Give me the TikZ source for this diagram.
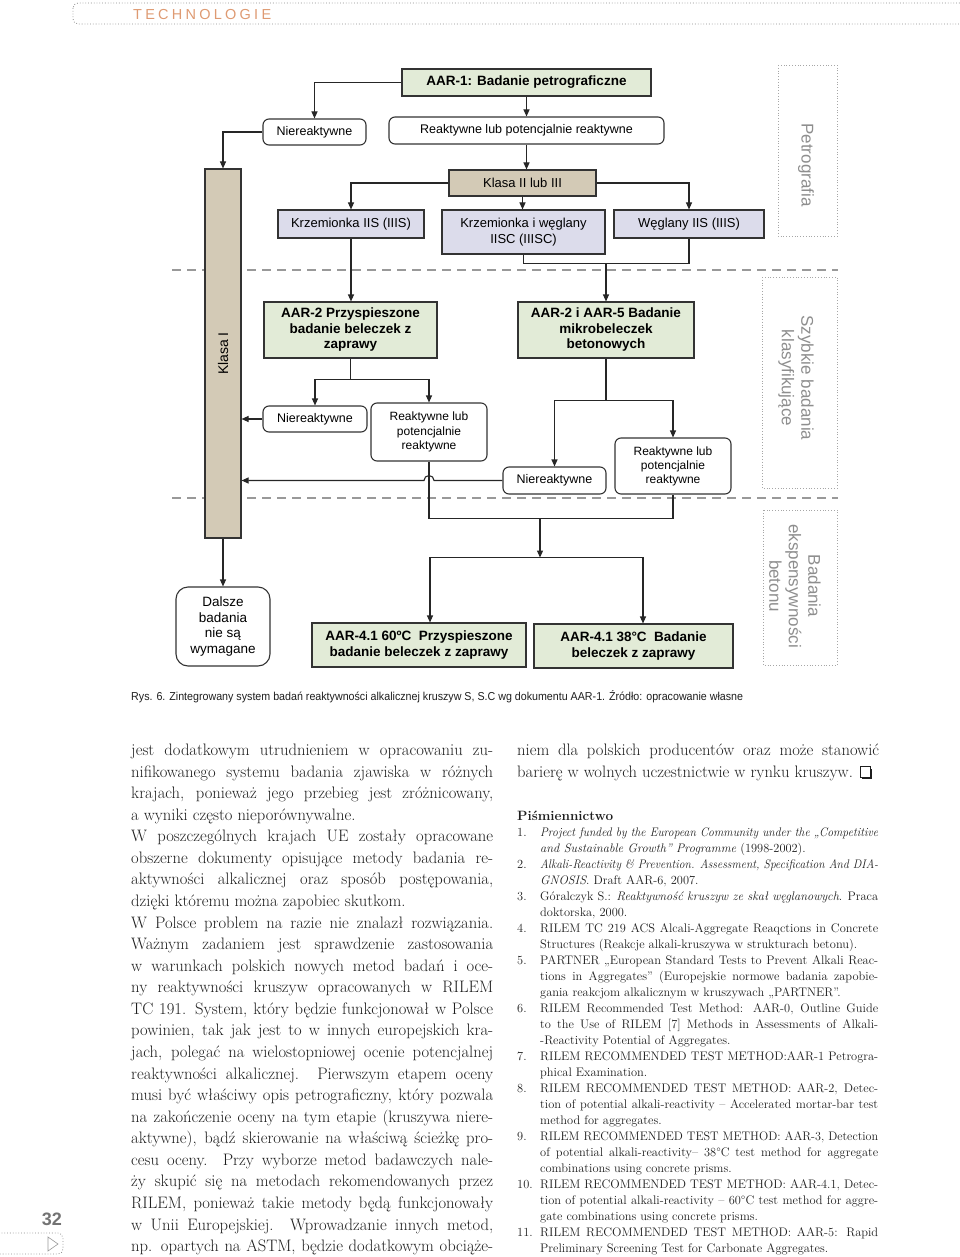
\documentclass[tikz,border=0pt]{standalone}
\usepackage{fontspec}
\usepackage{graphicx}
\usetikzlibrary{arrows.meta,calc}
\newfontfamily\dfont{Liberation Sans}
\definecolor{grn}{HTML}{E2EBD7}
\definecolor{tanc}{HTML}{D3CAB6}
\definecolor{lav}{HTML}{DCDCEB}
\definecolor{sidegray}{HTML}{8E8E8E}
\definecolor{hdr}{HTML}{DE9A72}
\definecolor{txt}{HTML}{1E1E1E}
\newlength\colw \setlength\colw{362pt}
\newlength\refw \setlength\refw{338pt}
\newsavebox\linebox
\newcommand\fitline[2]{\sbox\linebox{#2}\ifdim\wd\linebox>#1\resizebox{#1}{\height}{\usebox\linebox}\else\makebox[#1][s]{#2}\fi}
\newcommand\jl[1]{\fitline{\colw}{#1}}
\newcommand\rj[1]{\fitline{\refw}{#1}}
\newcommand\bodyfont{\fontsize{16.6pt}{18pt}\selectfont}
\newcommand\reffont{\fontsize{12.4pt}{14pt}\selectfont}
\hfuzz=50pt
\tikzset{
 box/.style={draw=black!80, line width=1.1pt, align=center, inner sep=1pt,
   font=\dfont\fontsize{12.5pt}{14.5pt}\selectfont},
 gbox/.style={box, fill=grn, font=\dfont\bfseries\fontsize{13.5pt}{15.5pt}\selectfont},
 lbox/.style={box, fill=lav, font=\dfont\fontsize{13pt}{16pt}\selectfont},
 tbox/.style={box, fill=tanc},
 rbox/.style={box, fill=white, rounded corners=6pt},
 sidebox/.style={draw=black!35, dotted, line width=0.8pt},
 sidetxt/.style={text=sidegray, font=\dfont\fontsize{17pt}{19.5pt}\selectfont, align=center, rotate=-90, inner sep=0pt},
 arr/.style={line width=1.1pt, draw=black!85, -{Triangle[length=7pt,width=6pt]}},
 ln/.style={line width=1.1pt, draw=black!85},
 sepline/.style={draw=black!40, line width=2.6pt, dash pattern=on 9pt off 6pt},
 bl/.style={anchor=base west, inner sep=0pt, text=txt, font=\bodyfont},
 rl/.style={anchor=base west, inner sep=0pt, text=txt, font=\reffont},
}
\begin{document}
\begin{tikzpicture}[x=1pt,y=-1pt]
\useasboundingbox (0,0) rectangle (960,1257);
% header
\draw[black!45, dotted, line width=0.8pt, rounded corners=5pt] (73,3) rectangle (990,24);
\node[anchor=base west, inner sep=0pt, text=hdr, font=\dfont\fontsize{14.5pt}{16pt}\selectfont] (hdrt) at (133,19.5)
  {\hbox to 138pt{T\hfil E\hfil C\hfil H\hfil N\hfil O\hfil L\hfil O\hfil G\hfil I\hfil E}};

% separators
\draw[sepline] (172,270) -- (838,270);
\draw[sepline] (172,498) -- (838,498);

% side boxes
\draw[sidebox] (778,65) rectangle (837,236);
\node[sidetxt] (petro) at (806,165) {Petrografia};
\draw[sidebox] (762,277) rectangle (837,488);
\node[sidetxt] (szyb) at (796,378) {Szybkie badania\\klasyfikujące};
\draw[sidebox] (763,510) rectangle (837,665);
\node[sidetxt] (bad) at (795,586) {Badania\\ekspensywności\\betonu};

% nodes
\node[gbox, minimum width=249pt, minimum height=27pt] (aar1) at (526.5,82.5) {AAR-1: Badanie petrograficzne};
\node[rbox, minimum width=103pt, minimum height=26pt] (nr1) at (314.5,132) {Niereaktywne};
\node[rbox, minimum width=275pt, minimum height=27pt] (rr1) at (526.5,130.5) {Reaktywne lub potencjalnie reaktywne};
\node[tbox, font=\dfont\fontsize{13pt}{15pt}\selectfont, minimum width=147pt, minimum height=26pt] (kl23) at (522.5,183) {Klasa II lub III};
\node[lbox, minimum width=146pt, minimum height=28pt] (kr1) at (351,224) {Krzemionka IIS (IIIS)};
\node[lbox, minimum width=163pt, minimum height=44pt] (krw) at (523.5,232) {Krzemionka i węglany\\IISC (IIISC)};
\node[lbox, minimum width=150pt, minimum height=28pt] (wg) at (689,224) {Węglany IIS (IIIS)};
\node[tbox, minimum width=36pt, minimum height=369pt] (bar) at (223,353.5) {};
\node[rotate=90, inner sep=0pt, font=\dfont\fontsize{14pt}{16pt}\selectfont] (barlbl) at (bar.center) {Klasa I};
\node[gbox, minimum width=173pt, minimum height=56pt] (aar2p) at (350.5,330) {AAR-2 Przyspieszone\\badanie beleczek z\\zaprawy};
\node[gbox, minimum width=176pt, minimum height=56pt] (aar25) at (606,330) {AAR-2 i AAR-5 Badanie\\mikrobeleczek\\betonowych};
\node[rbox, minimum width=104pt, minimum height=26pt] (nr2) at (315,419) {Niereaktywne};
\node[rbox, font=\dfont\fontsize{12pt}{14.5pt}\selectfont, minimum width=116pt, minimum height=58pt] (rr2) at (429,432) {Reaktywne lub\\potencjalnie\\reaktywne};
\node[rbox, minimum width=103pt, minimum height=27pt] (nr3) at (554.5,480.5) {Niereaktywne};
\node[rbox, font=\dfont\fontsize{12pt}{14pt}\selectfont, minimum width=116pt, minimum height=56pt] (rr3) at (673,466) {Reaktywne lub\\potencjalnie\\reaktywne};
\node[gbox, minimum width=214pt, minimum height=44pt] (aar41a) at (419,645) {AAR-4.1 60ºC\ \ Przyspieszone\\badanie beleczek z zaprawy};
\node[gbox, minimum width=199pt, minimum height=44pt] (aar41b) at (633.5,646) {AAR-4.1 38°C\ \ Badanie\\beleczek z zaprawy};
\node[rbox, rounded corners=12pt, font=\dfont\fontsize{13.5pt}{15.7pt}\selectfont, minimum width=94pt, minimum height=79pt] (dalsze) at (223,626.5) {Dalsze\\badania\\nie są\\wymagane};

% junction coordinates
\path (krw.south) ++(82.5,9) coordinate (jA);
\path (aar2p.south) ++(0,21) coordinate (jB);
\path (aar25.south) ++(0,42) coordinate (jC);
\path (rr2.south) ++(111,57) coordinate (jD);
\path (jD) ++(0,39) coordinate (jE);
\path (aar41a.north) ++(11,0) coordinate (tA);
\path (aar41b.north) ++(9.5,0) coordinate (tB);
\coordinate (hopR) at ($(rr2.south |- nr3.west)+(5,0)$);

% connectors
\draw[arr] (aar1.west) -| (nr1.north);
\draw[arr] (aar1.south) -- (aar1.south |- rr1.north);
\draw[arr] (rr1.south) -- (rr1.south |- kl23.north);
\draw[arr] (nr1.west) -| (bar.north);
\draw[arr] (kl23.west) -| (kr1.north);
\draw[arr] (kl23.east) -| (wg.north);
\draw[arr] (kl23.south) -- (kl23.south |- krw.north);
\draw[arr] (kr1.south) -- (kr1.south |- aar2p.north);
\draw[ln] (krw.south) |- (jA) -| (wg.south);
\draw[arr] (jA) -- (jA |- aar25.north);
\draw[ln] (aar2p.south) -- (jB);
\draw[arr] (jB) -| (nr2.north);
\draw[arr] (jB) -| (rr2.north);
\draw[arr] (nr2.west) -- (nr2.west -| bar.east);
\draw[ln] (aar25.south) -- (jC);
\draw[arr] (jC) -| (nr3.north);
\draw[arr] (jC) -| (rr3.north);
\draw[arr] (nr3.west) -- (hopR) arc[start angle=0, end angle=180, radius=5pt] -- (nr3.west -| bar.east);
\draw[ln] (rr2.south) |- (jD) -| (rr3.south);
\draw[arr] (jD) -- (jE);
\draw[arr] (jE) -| (tA);
\draw[arr] (jE) -| (tB);
\draw[arr] (bar.south) -- (dalsze.north);

% caption
\node[anchor=base west, inner sep=0pt, text=txt] (cap) at (131,700)
 {\resizebox{612pt}{\height}{\dfont\fontsize{11.5pt}{13pt}\selectfont Rys. 6. Zintegrowany system badań reaktywności alkalicznej kruszyw S, S.C wg dokumentu AAR-1. Źródło: opracowanie własne}};

% left column
\node[bl] (l1) at (131,755.5) {\jl{jest dodatkowym utrudnieniem w opracowaniu zu-}};
\node[bl] (l2) at (131,777.1) {\jl{nifikowanego systemu badania zjawiska w różnych}};
\node[bl] (l3) at (131,798.6) {\jl{krajach, ponieważ jego przebieg jest zróżnicowany,}};
\node[bl] (l4) at (131,820.2) {a wyniki często nieporównywalne.};
\node[bl] (l5) at (131,841.8) {\jl{W poszczególnych krajach UE zostały opracowane}};
\node[bl] (l6) at (131,863.4) {\jl{obszerne dokumenty opisujące metody badania re-}};
\node[bl] (l7) at (131,884.9) {\jl{aktywności alkalicznej oraz sposób postępowania,}};
\node[bl] (l8) at (131,906.5) {dzięki któremu można zapobiec skutkom.};
\node[bl] (l9) at (131,928.1) {\jl{W Polsce problem na razie nie znalazł rozwiązania.}};
\node[bl] (l10) at (131,949.6) {\jl{Ważnym zadaniem jest sprawdzenie zastosowania}};
\node[bl] (l11) at (131,971.2) {\jl{w warunkach polskich nowych metod badań i oce-}};
\node[bl] (l12) at (131,992.8) {\jl{ny reaktywności kruszyw opracowanych w RILEM}};
\node[bl] (l13) at (131,1014.3) {\jl{TC 191. System, który będzie funkcjonował w Polsce}};
\node[bl] (l14) at (131,1035.9) {\jl{powinien, tak jak jest to w innych europejskich kra-}};
\node[bl] (l15) at (131,1057.5) {\jl{jach, polegać na wielostopniowej ocenie potencjalnej}};
\node[bl] (l16) at (131,1079.1) {\jl{reaktywności alkalicznej. Pierwszym etapem oceny}};
\node[bl] (l17) at (131,1100.6) {\jl{musi być właściwy opis petrograficzny, który pozwala}};
\node[bl] (l18) at (131,1122.2) {\jl{na zakończenie oceny na tym etapie (kruszywa niere-}};
\node[bl] (l19) at (131,1143.8) {\jl{aktywne), bądź skierowanie na właściwą ścieżkę pro-}};
\node[bl] (l20) at (131,1165.3) {\jl{cesu oceny. Przy wyborze metod badawczych nale-}};
\node[bl] (l21) at (131,1186.9) {\jl{ży skupić się na metodach rekomendowanych przez}};
\node[bl] (l22) at (131,1208.5) {\jl{RILEM, ponieważ takie metody będą funkcjonowały}};
\node[bl] (l23) at (131,1230.0) {\jl{w Unii Europejskiej. Wprowadzanie innych metod,}};
\node[bl] (l24) at (131,1251.6) {\jl{np. opartych na ASTM, będzie dodatkowym obciąże-}};

% right column
\node[bl] (r1) at (517,755.5) {\jl{niem dla polskich producentów oraz może stanowić}};
\node[bl] (r2) at (517,777.1) {barierę w wolnych uczestnictwie w rynku kruszyw.};
\draw[txt, line width=0.8pt] ($(r2.base east)+(7,0)$) rectangle ++(10,-10.5);
\fill[txt] ($(r2.base east)+(9,0)$) rectangle ++(10,2.2);
\fill[txt] ($(r2.base east)+(17,2.2)$) rectangle ++(2.2,-10.5);

\node[anchor=base west, inner sep=0pt, text=txt, font=\fontsize{13.5pt}{15pt}\selectfont\bfseries] (pism) at (517,820) {Piśmiennictwo};

\node[rl] at (517,836) {1.};
\node[rl] at (540,836) {\rj{\textit{Project funded by the European Community under the „Competitive}}};
\node[rl] at (540,852) {\textit{and Sustainable Growth” Programme} (1998-2002).};
\node[rl] at (517,868) {2.};
\node[rl] at (540,868) {\rj{\textit{Alkali-Reactivity \& Prevention. Assessment, Specification And DIA-}}};
\node[rl] at (540,884) {\textit{GNOSIS}. Draft AAR-6, 2007.};
\node[rl] at (517,900) {3.};
\node[rl] at (540,900) {\rj{Góralczyk S.: \textit{Reaktywność kruszyw ze skał węglanowych}. Praca}};
\node[rl] at (540,916) {doktorska, 2000.};
\node[rl] at (517,932) {4.};
\node[rl] at (540,932) {\rj{RILEM TC 219 ACS Alcali-Aggregate Reaqctions in Concrete}};
\node[rl] at (540,948) {Structures (Reakcje alkali-kruszywa w strukturach betonu).};
\node[rl] at (517,964) {5.};
\node[rl] at (540,964) {\rj{PARTNER „European Standard Tests to Prevent Alkali Reac-}};
\node[rl] at (540,980) {\rj{tions in Aggregates” (Europejskie normowe badania zapobie-}};
\node[rl] at (540,996) {gania reakcjom alkalicznym w kruszywach „PARTNER”.};
\node[rl] at (517,1012) {6.};
\node[rl] at (540,1012) {\rj{RILEM Recommended Test Method: AAR-0, Outline Guide}};
\node[rl] at (540,1028) {\rj{to the Use of RILEM [7] Methods in Assessments of Alkali-}};
\node[rl] at (540,1044) {-Reactivity Potential of Aggregates.};
\node[rl] at (517,1060) {7.};
\node[rl] at (540,1060) {\rj{RILEM RECOMMENDED TEST METHOD:AAR-1 Petrogra-}};
\node[rl] at (540,1076) {phical Examination.};
\node[rl] at (517,1092) {8.};
\node[rl] at (540,1092) {\rj{RILEM RECOMMENDED TEST METHOD: AAR-2, Detec-}};
\node[rl] at (540,1108) {\rj{tion of potential alkali-reactivity – Accelerated mortar-bar test}};
\node[rl] at (540,1124) {method for aggregates.};
\node[rl] at (517,1140) {9.};
\node[rl] at (540,1140) {\rj{RILEM RECOMMENDED TEST METHOD: AAR-3, Detection}};
\node[rl] at (540,1156) {\rj{of potential alkali-reactivity– 38°C test method for aggregate}};
\node[rl] at (540,1172) {combinations using concrete prisms.};
\node[rl] at (517,1188) {10.};
\node[rl] at (540,1188) {\rj{RILEM RECOMMENDED TEST METHOD: AAR-4.1, Detec-}};
\node[rl] at (540,1204) {\rj{tion of potential alkali-reactivity – 60°C test method for aggre-}};
\node[rl] at (540,1220) {gate combinations using concrete prisms.};
\node[rl] at (517,1236) {11.};
\node[rl] at (540,1236) {\rj{RILEM RECOMMENDED TEST METHOD: AAR-5: Rapid}};
\node[rl] at (540,1252) {Preliminary Screening Test for Carbonate Aggregates.};

% page number and footer mark
\node[anchor=base east, inner sep=0pt, text=black!55, font=\dfont\bfseries\fontsize{18pt}{20pt}\selectfont] (pnum) at (62,1225) {32};
\draw[black!45, dotted, line width=0.8pt, rounded corners=5pt] (-20,1233) rectangle (63,1254);
\draw[black!40, line width=0.6pt] (48,1237) -- (58,1244) -- (48,1251) -- cycle;
\end{tikzpicture}
\end{document}
